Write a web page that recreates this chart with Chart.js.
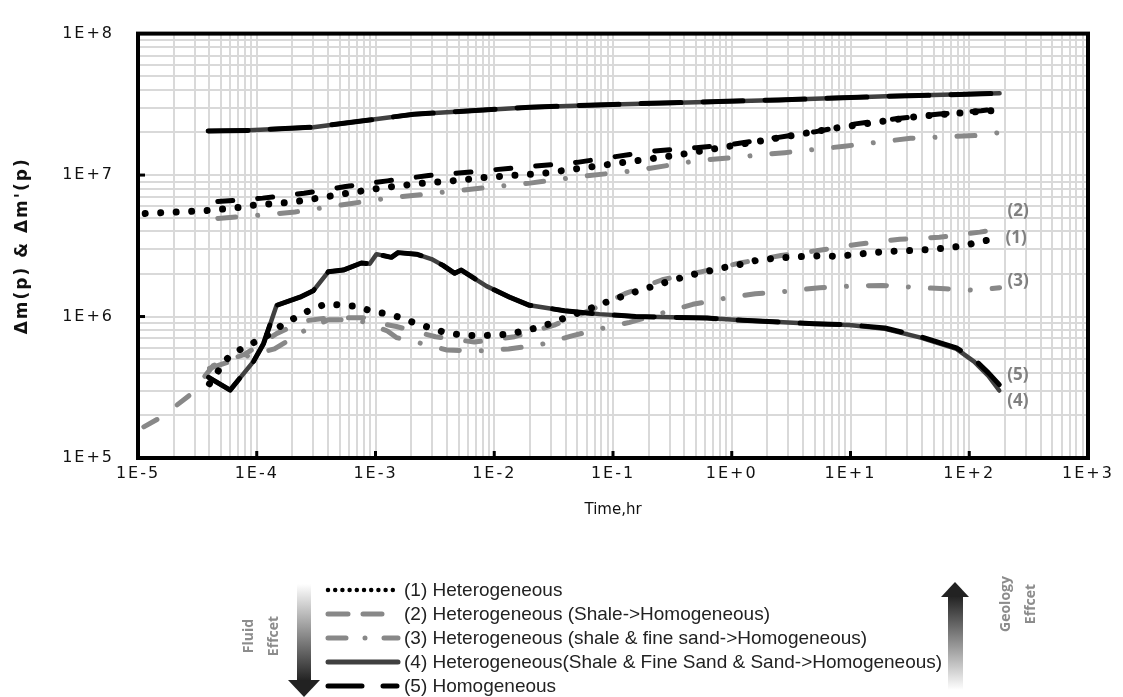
<!DOCTYPE html>
<html>
<head>
<meta charset="utf-8">
<script src="https://cdn.jsdelivr.net/npm/chart.js@4.4.0/dist/chart.umd.min.js"></script>
<style>
html,body{margin:0;padding:0;background:#fff;}
#wrap{position:relative;width:1123px;height:697px;overflow:hidden;}
#gp{position:absolute;left:0;top:0;}
#deco{position:absolute;left:0;top:0;}
.lg{position:absolute;font:19px "Liberation Sans",Arial,sans-serif;color:#222;white-space:nowrap;line-height:20px;}
.side{position:absolute;width:70px;height:50px;font:700 14px "Open Sans",sans-serif;color:#8c8c8c;transform:rotate(-90deg);text-align:center;line-height:25px;white-space:nowrap;}
</style>
</head>
<body>
<div id="wrap">
<canvas id="gp" width="1123" height="697"></canvas>
<svg id="deco" width="1123" height="697"></svg>
</div>
<script>
// (1) Heterogeneous  - dm(p) & dm'(p)
const t1 = [1.15e-5,2.95e-5,4.1e-5,7.4e-5,1.0e-4,1.95e-4,3.5e-4,6.7e-4,1.23e-3,2.3e-3,4.4e-3,8.2e-3,1.55e-2,2.6e-2,0.1,0.34,1.66,7.5,37,175];
const dm1 = [5.35e6,5.55e6,5.64e6,5.93e6,6.17e6,6.41e6,6.93e6,7.59e6,8.2e6,8.7e6,9.1e6,9.6e6,1.0e7,1.03e7,1.2e7,1.38e7,1.73e7,2.15e7,2.6e7,2.88e7];
const t1d = [4.0e-5,4.85e-5,5.78e-5,7.48e-5,9.86e-5,1.29e-4,1.65e-4,2.2e-4,2.9e-4,3.87e-4,5.28e-4,7.2e-4,9.44e-4,1.22e-3,1.62e-3,2.14e-3,2.92e-3,3.87e-3,5.3e-3,7.2e-3,1.0e-2,1.36e-2,1.84e-2,2.5e-2,3.36e-2,4.5e-2,6.1e-2,8.0e-2,0.107,0.141,0.19,0.256,0.35,0.474,0.64,0.86,1.19,1.6,2.18,2.98,4.07,5.64,7.7,10.5,14.3,19.5,27,37,51,69,94,128,173];
const dd1 = [3.35e5,4.24e5,5.16e5,5.94e5,6.67e5,7.52e5,8.77e5,1.0e6,1.13e6,1.23e6,1.2e6,1.18e6,1.08e6,1.05e6,9.85e5,9.0e5,8.3e5,7.7e5,7.4e5,7.3e5,7.4e5,7.5e5,8.0e5,8.45e5,9.3e5,1.02e6,1.12e6,1.23e6,1.34e6,1.46e6,1.58e6,1.71e6,1.85e6,1.98e6,2.1e6,2.22e6,2.34e6,2.49e6,2.57e6,2.62e6,2.66e6,2.69e6,2.66e6,2.74e6,2.81e6,2.88e6,2.91e6,2.94e6,3.0e6,3.06e6,3.2e6,3.4e6,3.58e6];

// (2) Heterogeneous (Shale->Homogeneous)
const t2 = [4.7e-5,1.12e-4,2.5e-4,5.6e-4,1.26e-3,2.8e-3,6.3e-3,1.4e-2,5.0e-2,0.105,0.22,0.5,1.05,2.4,5.0,11,24,56,126,180];
const dm2 = [6.5e6,6.87e6,7.43e6,8.3e6,9.1e6,9.93e6,1.05e7,1.12e7,1.23e7,1.35e7,1.48e7,1.56e7,1.66e7,1.84e7,2.02e7,2.3e7,2.5e7,2.7e7,2.85e7,2.95e7];
const t2d = [1.12e-5,1.58e-5,2.75e-5,4.3e-5,7.9e-5,1.48e-4,2.5e-4,4.0e-4,7.9e-4,1.12e-3,1.5e-3,3.2e-3,6.8e-3,1.48e-2,3.2e-2,6.6e-2,0.126,0.26,0.55,1.2,2.6,5.5,12,26,56,123,180];
const dd2 = [1.66e5,1.95e5,2.8e5,4.5e5,5.4e5,7.6e5,9.3e5,9.8e5,9.8e5,8.9e5,8.5e5,7.2e5,6.6e5,7.2e5,8.7e5,1.12e6,1.45e6,1.82e6,2.07e6,2.4e6,2.7e6,2.94e6,3.26e6,3.52e6,3.63e6,3.95e6,4.17e6];

// (3) Heterogeneous (shale & fine sand->Homogeneous)
const t3 = [4.7e-5,1.07e-4,2.1e-4,6.3e-4,1.26e-3,2.5e-3,7.9e-3,2.0e-2,5.0e-2,0.16,0.5,2.8,8.9,32,126,180];
const dm3 = [4.94e6,5.21e6,5.48e6,6.3e6,6.87e6,7.3e6,8.1e6,8.77e6,9.7e6,1.08e7,1.26e7,1.44e7,1.6e7,1.82e7,1.91e7,2.0e7];
const t3d = [4.0e-5,7.9e-5,1.41e-4,2.5e-4,4.0e-4,7.1e-4,1.26e-3,1.5e-3,2.2e-3,4.0e-3,7.1e-3,1.32e-2,2.4e-2,4.5e-2,7.9e-2,0.138,0.26,0.47,0.85,1.58,2.95,5.5,10,18.6,34,63,117,180];
const dd3 = [4.3e5,5.2e5,5.9e5,7.9e5,9.5e5,9.5e5,7.9e5,7.1e5,6.6e5,5.8e5,5.7e5,5.9e5,6.3e5,7.3e5,8.2e5,9.1e5,1.06e6,1.22e6,1.34e6,1.45e6,1.51e6,1.6e6,1.64e6,1.66e6,1.61e6,1.57e6,1.53e6,1.6e6];

// (4) Heterogeneous(Shale & Fine Sand & Sand->Homogeneous) and (5) Homogeneous: same dm(p)
const t45 = [3.9e-5,8.7e-5,3.0e-4,7.9e-4,2.1e-3,5.5e-3,2.0e-2,0.1,2.5,20,180];
const dm45 = [2.05e7,2.07e7,2.18e7,2.42e7,2.69e7,2.83e7,3.02e7,3.16e7,3.4e7,3.6e7,3.78e7];
const t45d = [3.93e-5,5.97e-5,9.4e-5,1.14e-4,1.47e-4,2.31e-4,2.99e-4,4.0e-4,5.35e-4,7.6e-4,8.95e-4,1.02e-3,1.36e-3,1.55e-3,2.21e-3,2.96e-3,3.7e-3,4.65e-3,5.28e-3,8.6e-3,1.35e-2,1.98e-2,3.9e-2,7.7e-2,0.155,0.62,1.23,4.9,9.8,19.5,39,78,110,145,179];
const dd4 = [3.72e5,3.02e5,4.82e5,6.43e5,1.2e6,1.37e6,1.52e6,2.07e6,2.13e6,2.39e6,2.36e6,2.76e6,2.62e6,2.83e6,2.76e6,2.55e6,2.3e6,2.02e6,2.13e6,1.64e6,1.37e6,1.2e6,1.1e6,1.04e6,1.0e6,9.75e5,9.4e5,8.9e5,8.7e5,8.2e5,7.1e5,5.9e5,4.8e5,3.8e5,3.0e5];
const dd5 = [3.72e5,3.02e5,4.82e5,6.43e5,1.2e6,1.37e6,1.52e6,2.07e6,2.13e6,2.39e6,2.36e6,2.76e6,2.62e6,2.83e6,2.76e6,2.55e6,2.3e6,2.02e6,2.13e6,1.64e6,1.37e6,1.2e6,1.1e6,1.04e6,1.0e6,9.75e5,9.4e5,8.9e5,8.75e5,8.3e5,7.2e5,6.0e5,5.0e5,4.0e5,3.3e5];

const legendLabels = [
  "(1) Heterogeneous",
  "(2) Heterogeneous (Shale->Homogeneous)",
  "(3) Heterogeneous (shale & fine sand->Homogeneous)",
  "(4) Heterogeneous(Shale & Fine Sand & Sand->Homogeneous)",
  "(5) Homogeneous"
];
const endTags = ["(1)","(2)","(3)","(4)","(5)"];

function pts(t,v){ return t.map((x,i)=>({x:x,y:v[i]})); }
function line(label,t,v,color,width,dash,order){
  return {label:label,data:pts(t,v),borderColor:color,backgroundColor:color,borderWidth:width,
    borderDash:dash,borderCapStyle:'round',borderJoinStyle:'round',pointRadius:0,tension:0,order:order,fill:false};
}

const DOT=[0.001,15.5], DASH=[15,25], DASHDOT=[18,22,0.001,22], LONG=[40,22];
const datasets = [
  line("(4) dm",  t45, dm45, "#404040", 4.5, [], 5),
  line("(4) dm'", t45d, dd4, "#404040", 4.5, [], 5),
  line("(3) dm",  t3, dm3, "#888888", 5, DASHDOT, 4),
  line("(3) dm'", t3d, dd3, "#888888", 5, DASHDOT, 4),
  line("(2) dm",  t2, dm2, "#000000", 5, DASH, 3),
  line("(2) dm'", t2d, dd2, "#888888", 5, DASH, 3),
  line("(5) dm",  t45, dm45, "#000000", 5, LONG, 2),
  line("(5) dm'", t45d, dd5, "#000000", 5, LONG, 2),
  line("(1) dm",  t1, dm1, "#000000", 7, DOT, 1),
  line("(1) dm'", t1d, dd1, "#000000", 7, DOT, 1)
];

function decadeTicks(lo,hi){
  const out=[];
  for(let e=lo;e<hi;e++){ for(let m=1;m<10;m++) out.push({value:m*Math.pow(10,e)}); }
  out.push({value:Math.pow(10,hi)});
  return out;
}
function expLabel(v){
  const e=Math.log10(v);
  if(Math.abs(e-Math.round(e))>1e-6) return '';
  const n=Math.round(e);
  return '1E'+(n<0?'-':'+')+Math.abs(n);
}

const framePlugin = {
  id:'frame',
  beforeDraw(c){ c.ctx.letterSpacing='2px'; },
  afterDatasetsDraw(c){
    const ctx=c.ctx, a=c.chartArea, xs=c.scales.x, ys=c.scales.y;
    ctx.save();
    ctx.letterSpacing='0px';
    ctx.strokeStyle='#000'; ctx.lineWidth=4;
    ctx.strokeRect(a.left,a.top,a.right-a.left,a.bottom-a.top);
    ctx.fillStyle='#000';
    for(let e=-4;e<=2;e++){ const px=xs.getPixelForValue(Math.pow(10,e)); ctx.fillRect(px-1.5,a.bottom-7,3,7); }
    for(let e=6;e<=7;e++){ const py=ys.getPixelForValue(Math.pow(10,e)); ctx.fillRect(a.left,py-1.5,7,3); }
    // end tags
    const last=i=>{ const m=c.getDatasetMeta(i).data; return m[m.length-1]; };
    const tagPos=[[9,0],[5,-18],[3,-7],[1,11],[7,-9]];
    ctx.font='700 17px "Open Sans", sans-serif';
    ctx.fillStyle='#808080'; ctx.textAlign='left'; ctx.textBaseline='middle';
    tagPos.forEach((p,k)=>{ const el=last(p[0]); ctx.fillText(endTags[k], el.x+8, el.y+p[1]); });
    // x title
    ctx.font='15px "DejaVu Sans", sans-serif';
    ctx.fillStyle='#111'; ctx.textAlign='center';
    ctx.fillText('Time,hr',(a.left+a.right)/2,510);
    ctx.restore();
  },
  afterDraw(c){ c.ctx.letterSpacing='0px'; }
};

Chart.defaults.font.family='"DejaVu Sans", sans-serif';
Chart.defaults.color='#111';

new Chart(document.getElementById('gp'),{
  type:'line',
  data:{datasets:datasets},
  options:{
    responsive:false, animation:false, events:[],
    layout:{padding:{top:16,right:35,bottom:159,left:0}},
    plugins:{legend:{display:false},tooltip:{enabled:false}},
    scales:{
      x:{type:'logarithmic',min:1e-5,max:1e3,
        afterBuildTicks:s=>{s.ticks=decadeTicks(-5,3);},
        afterFit:s=>{s.height=80;},
        ticks:{autoSkip:false,maxRotation:0,padding:6,font:{size:16},callback:expLabel},
        grid:{color:'#d9d9d9',lineWidth:2,drawTicks:false},
        border:{display:false},
        title:{display:false}
      },
      y:{type:'logarithmic',min:1e5,max:1e8,
        afterBuildTicks:s=>{s.ticks=decadeTicks(5,8);},
        afterFit:s=>{s.width=138;},
        ticks:{autoSkip:false,padding:24,font:{size:16},callback:expLabel},
        grid:{color:'#d9d9d9',lineWidth:2,drawTicks:false},
        border:{display:false},
        title:{display:true,text:"\u0394m(p) & \u0394m'(p)",font:{size:17,weight:'bold'},padding:{top:12,bottom:0}}
      }
    }
  },
  plugins:[framePlugin]
});

// legend + arrows below the chart
const svg=document.getElementById('deco');
const rows=[590,614,638,662,686];
const samples=[
  {c:'#000',w:4.5,d:'0.001 7.2',x2:398},
  {c:'#888',w:5,d:'20 15',x2:382},
  {c:'#888',w:5,d:'18 19 0.001 19',x2:398},
  {c:'#404040',w:5,d:'',x2:398},
  {c:'#000',w:5,d:'34 21 14 30',x2:398}
];
let s='<defs>'+
 '<linearGradient id="gDown" x1="0" y1="0" x2="0" y2="1"><stop offset="0" stop-color="#ffffff"/><stop offset="1" stop-color="#222"/></linearGradient>'+
 '<linearGradient id="gUp" x1="0" y1="0" x2="0" y2="1"><stop offset="0" stop-color="#222"/><stop offset="1" stop-color="#ffffff"/></linearGradient>'+
 '</defs>';
samples.forEach((m,i)=>{
  s+='<line x1="328" x2="'+m.x2+'" y1="'+rows[i]+'" y2="'+rows[i]+'" stroke="'+m.c+'" stroke-width="'+m.w+'" stroke-linecap="round"'+(m.d?' stroke-dasharray="'+m.d+'"':'')+'/>';
});
s+='<rect x="297" y="584" width="14" height="97" fill="url(#gDown)"/>';
s+='<polygon points="288,680 320,680 304,697" fill="#222"/>';
s+='<rect x="948" y="596" width="15" height="94" fill="url(#gUp)"/>';
s+='<polygon points="941,597 969,597 955,582" fill="#222"/>';
svg.innerHTML=s;

const wrap=document.getElementById('wrap');
legendLabels.forEach((txt,i)=>{
  const d=document.createElement('div');
  d.className='lg'; d.style.left='404px'; d.style.top=(rows[i]-10)+'px'; d.textContent=txt;
  wrap.appendChild(d);
});
function side(html,cx,cy){
  const d=document.createElement('div');
  d.className='side'; d.innerHTML=html;
  d.style.left=(cx-35)+'px'; d.style.top=(cy-25)+'px';
  wrap.appendChild(d);
}
side('Fluid<br>Effcet',260,636);
side('Geology<br>Effcet',1017,604);
</script>
</body>
</html>
